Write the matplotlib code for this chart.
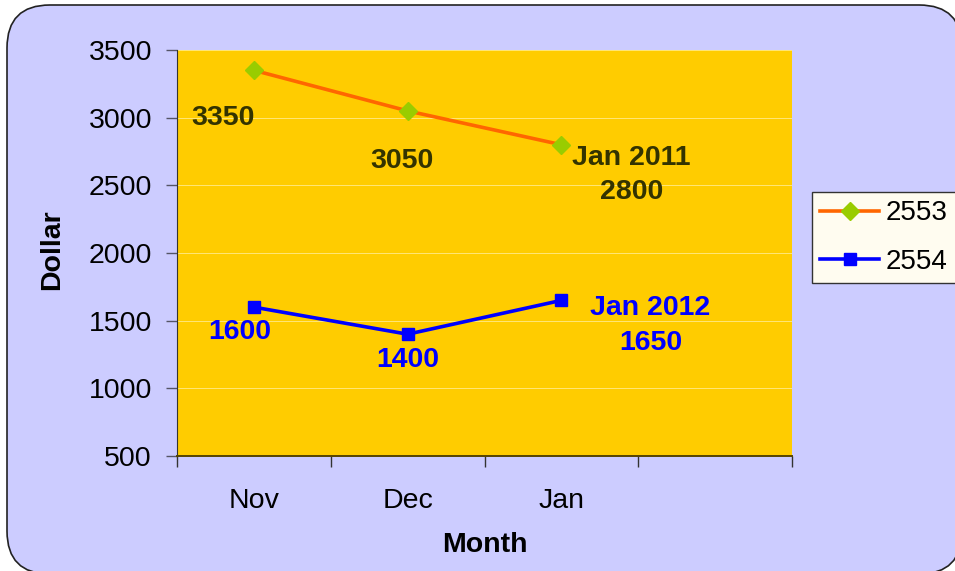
import matplotlib
matplotlib.use("Agg")
import matplotlib.pyplot as plt
from matplotlib.patches import FancyBboxPatch

plt.rcParams["font.family"] = ["Liberation Sans", "DejaVu Sans"]

months = ["Nov", "Dec", "Jan"]
series_names = ["2553", "2554"]
values_2553 = [3350, 3050, 2800]
values_2554 = [1600, 1400, 1650]
label_prefix_2553 = ["", "", "Jan 2011\n"]
label_prefix_2554 = ["", "", "Jan 2012\n"]
yticks = [500, 1000, 1500, 2000, 2500, 3000, 3500]

W, H = 955, 571
fig = plt.figure(figsize=(W / 100, H / 100), dpi=100)
fig.patch.set_facecolor("white")

# rounded chart-area frame
frame = FancyBboxPatch((7 / W, 1 - 574 / H), (962 - 7) / W, (574 - 5) / H,
                       boxstyle="round,pad=0,rounding_size=0.045",
                       transform=fig.transFigure, facecolor="#CCCCFF",
                       edgecolor="#222222", lw=1.2, zorder=-5,
                       mutation_aspect=W / H)
fig.patches.append(frame)

ax = fig.add_axes([177 / W, 1 - 456 / H, (792 - 177) / W, (456 - 50) / H])
ax.set_facecolor("#FFCC00")

x = list(range(len(months)))
ax.plot(x, values_2553, color="#FF6600", lw=2.6, marker="D", ms=9.5,
        mfc="#99CC00", mec="#99CC00", label=series_names[0], zorder=3)
ax.plot(x, values_2554, color="#0000FF", lw=2.6, marker="s", ms=8.5,
        mfc="#0000FF", mec="#0000FF", label=series_names[1], zorder=3)

# data labels (offsets in pixels)
offs_2553 = [(-31, -48), (-6, -50), (70, -30)]
offs_2554 = [(-14, -25), (0, -26), (89, -25)]
for i, v in enumerate(values_2553):
    ax.annotate(label_prefix_2553[i] + str(v), (x[i], v),
                xytext=(offs_2553[i][0] * 0.72, offs_2553[i][1] * 0.72),
                textcoords="offset points", ha="center", va="center",
                fontsize=20.5, fontweight="bold", color="#333300",
                linespacing=1.42)
for i, v in enumerate(values_2554):
    ax.annotate(label_prefix_2554[i] + str(v), (x[i], v),
                xytext=(offs_2554[i][0] * 0.72, offs_2554[i][1] * 0.72),
                textcoords="offset points", ha="center", va="center",
                fontsize=20.5, fontweight="bold", color="#0000FF",
                linespacing=1.42)

ax.set_ylim(500, 3500)
ax.set_xlim(-0.5, 3.5)
ax.set_yticks(yticks)
ax.yaxis.grid(True, color="#FFF0A8", lw=0.5)
ax.set_axisbelow(True)

ax.set_xticks([-0.5, 0.5, 1.5, 2.5, 3.5])
ax.set_xticklabels([])
ax.set_xticks(x, minor=True)
ax.set_xticklabels(months, minor=True)
ax.tick_params(axis="x", which="major", length=8, width=1, color="#333333",
               direction="out")
ax.tick_params(axis="x", which="minor", length=0, pad=23, labelsize=20.5)
ax.tick_params(axis="y", length=8, width=1, color="#555566", pad=10,
               labelsize=20.5)

for s in ["top", "right"]:
    ax.spines[s].set_visible(False)
ax.spines["left"].set_color("#333333")
ax.spines["bottom"].set_color("#554400")
ax.spines["bottom"].set_linewidth(1.4)

fig.text(52 / W, 1 - 250 / H, "Dollar", rotation=90, ha="center",
         va="center", fontsize=20.5, fontweight="bold")
fig.text(485 / W, 1 - 545 / H, "Month", ha="center", va="center",
         fontsize=20.5, fontweight="bold")

leg = ax.legend(loc="upper left", bbox_to_anchor=(812 / W, 1 - 192 / H),
                bbox_transform=fig.transFigure, fontsize=20, frameon=True,
                fancybox=False, handlelength=2.1, borderpad=0.3,
                labelspacing=0.8, handletextpad=0.25, borderaxespad=0)
leg.get_frame().set_facecolor("#FFFCF0")
leg.get_frame().set_edgecolor("#333333")
leg.get_frame().set_alpha(1)

fig.savefig("out.png", dpi=100)
